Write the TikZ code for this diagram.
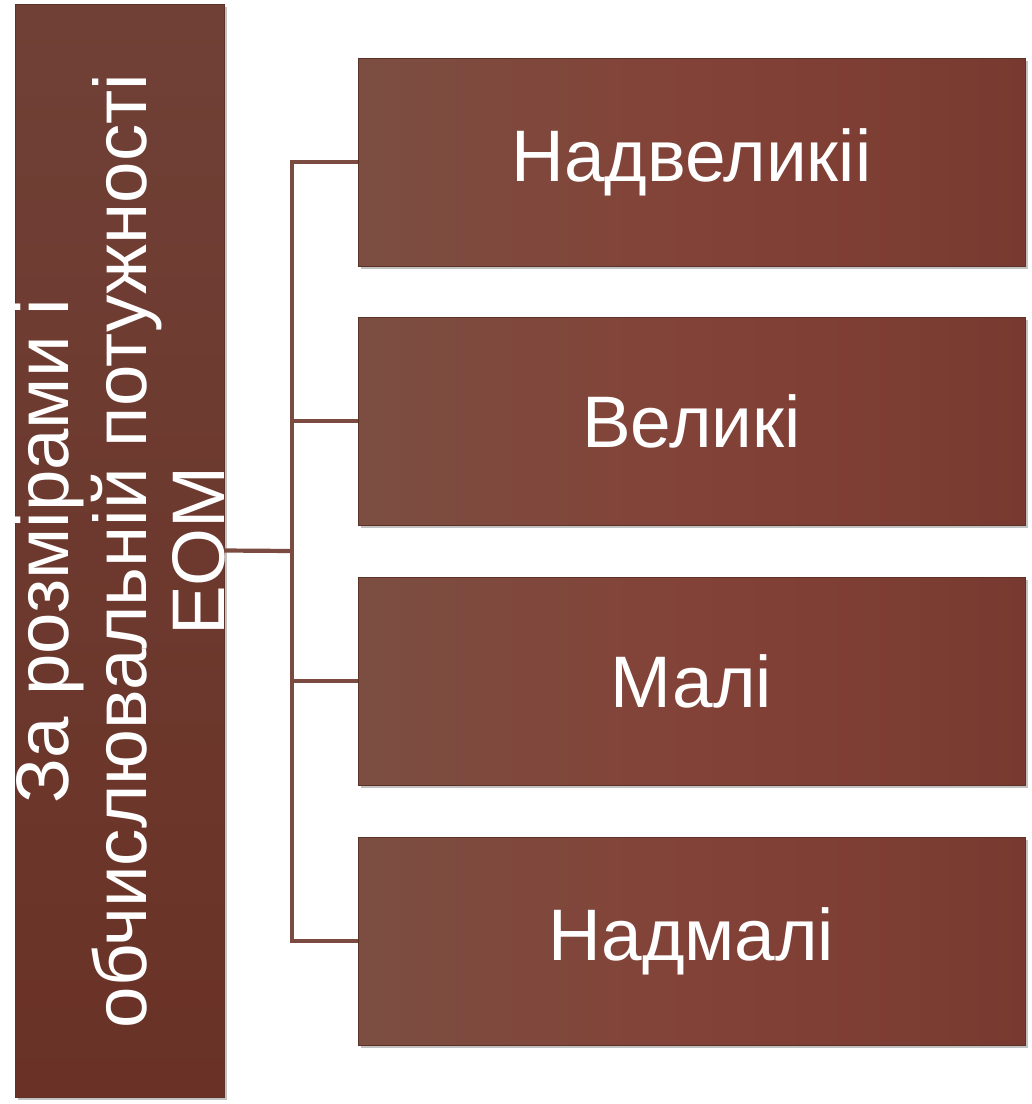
\documentclass[tikz,border=0pt]{standalone}
\usepackage{fontspec}
\setmainfont{Liberation Sans}
\usetikzlibrary{shadows}
\definecolor{boxL}{RGB}{124,78,66}
\definecolor{boxM}{RGB}{131,66,55}
\definecolor{boxR}{RGB}{120,58,48}
\definecolor{tallT}{RGB}{112,64,54}
\definecolor{tallB}{RGB}{106,50,38}
\definecolor{edge}{RGB}{92,50,40}
\definecolor{conn}{RGB}{123,74,64}
\tikzset{
  catbox/.style={rectangle, inner sep=0pt, minimum width=667pt, minimum height=208pt,
    left color=boxL, right color=boxR, middle color=boxM, draw=edge, line width=0.8pt,
    drop shadow={shadow xshift=3pt, shadow yshift=-3pt, opacity=0.4, fill=black!60},
    text=white, font=\fontsize{73}{77}\selectfont},
  tallbox/.style={rectangle, inner sep=0pt, minimum width=209pt, minimum height=1093pt,
    top color=tallT, bottom color=tallB, draw=edge, line width=0.8pt,
    drop shadow={shadow xshift=3pt, shadow yshift=-3pt, opacity=0.4, fill=black!60}},
  talltext/.style={rotate=90, align=center, inner sep=0pt, text=white,
    font=\fontsize{74.5}{78}\selectfont},
  connector/.style={draw=conn, line width=4.2pt}
}
\begin{document}
\begin{tikzpicture}[x=1pt,y=-1pt]
\useasboundingbox (0,0) rectangle (1032,1104);
\node[tallbox] (L) at (119.5,550.5) {};
\node[talltext] (Lt) at (119.5,551) {За розмірами і\\обчислювальній потужності\\ЕОМ};
\node[catbox] (A) at (691.5,162) {Надвеликіі};
\node[catbox] (B) at (691.5,421) {Великі};
\node[catbox] (C) at (691.5,681) {Малі};
\node[catbox] (D) at (691.5,941) {Надмалі};
\coordinate (J) at (292,551);
\draw[connector] (L.east) -- (J);
\draw[connector] (J) |- (A.west);
\draw[connector] (J) |- (B.west);
\draw[connector] (J) |- (C.west);
\draw[connector] (J) |- (D.west);
\end{tikzpicture}
\end{document}
